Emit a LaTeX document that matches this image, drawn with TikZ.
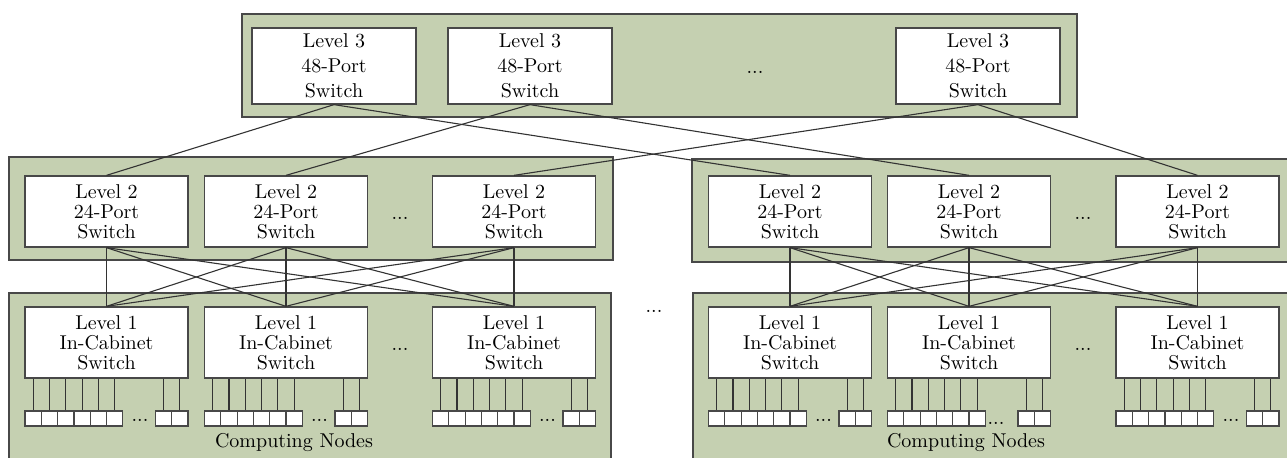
\documentclass[tikz,border=0pt]{standalone}
\usepackage{tikz}
\definecolor{panel}{RGB}{197,208,177}
\definecolor{edge}{RGB}{72,72,72}
\begin{document}
\begin{tikzpicture}[x=0.5pt,y=-0.5pt,
  panel/.style={fill=panel,draw=edge,line width=0.7pt},
  switchbox/.style={draw=edge,fill=white,line width=0.65pt,minimum width=81.5pt,
    minimum height=35.5pt,inner sep=0pt,align=center,font=\fontsize{10}{10}\selectfont},
  topbox/.style={switchbox,minimum width=82pt,minimum height=38pt,
    font=\fontsize{10}{12.5}\selectfont},
  nodebox/.style={draw=edge,fill=white,line width=0.6pt,minimum width=8.15pt,
    minimum height=7.5pt,inner sep=0pt},
  link/.style={draw=black!80,line width=0.55pt},
  gap/.style={inner sep=0pt,font=\fontsize{10}{12}\selectfont},
]
\clip (0,0) rectangle (1287,458);

% grouping panels
\path[panel] (242,14) rectangle (1077,117);
\path[panel] (9,157) rectangle (613,260);
\path[panel] (692,159) rectangle (1300,262);
\path[panel] (9,293) rectangle (611,470);
\path[panel] (693,293) rectangle (1300,470);

% level 3 switches
\node[topbox] (t1) at (334,66) {Level 3\\48-Port\\Switch};
\node[topbox] (t2) at (530,66) {Level 3\\48-Port\\Switch};
\node[topbox] (t3) at (978,66) {Level 3\\48-Port\\Switch};
\node[gap] (tdots) at (755,72) {...};

% level 2 and level 1 switches
\foreach \n/\x in {a1/106.5,a2/286,a3/514,b1/790,b2/969,b3/1197.5}{
  \node[switchbox] (m\n) at (\x,211.5) {Level 2\\24-Port\\Switch};
  \node[switchbox] (l\n) at (\x,342.5) {Level 1\\In-Cabinet\\Switch};
}
\node[gap] (mdotsA) at (400,218) {...};
\node[gap] (mdotsB) at (1083,218) {...};
\node[gap] (ldotsA) at (400,349) {...};
\node[gap] (ldotsB) at (1083,349) {...};
\node[gap] (cabdots) at (654,311) {...};

% computing nodes under each cabinet switch
\foreach \n/\x in {a1/106.5,a2/286,a3/514,b1/790,b2/969,b3/1197.5}{
  \foreach \k in {0,...,5}
    \node[nodebox] (c\n-\k) at ({\x-81.5+8.15+16.3*\k},418.5) {};
  \node[nodebox] (c\n-6) at ({\x+81.5-8.15-16.3},418.5) {};
  \node[nodebox] (c\n-7) at ({\x+81.5-8.15},418.5) {};
  \foreach \k in {0,...,7}
    \draw[link] (c\n-\k.north) -- (c\n-\k.north |- l\n.south);
}
\foreach \n/\x in {a1/106.5,a2/286,a3/514,b1/790,b3/1197.5}
  \node[gap] (d\n) at ({\x-81.5+115},420) {...};
\node[gap] (db2) at ({969-81.5+108.5},423.5) {...};

\node[font=\fontsize{10}{12}\selectfont] (cnA) at (294,443) {Computing Nodes};
\node[font=\fontsize{10}{12}\selectfont] (cnB) at (966,443) {Computing Nodes};

% uplinks from level 2 to level 3
\foreach \i in {1,2,3}{
  \draw[link] (t\i.south) -- (ma\i.north);
  \draw[link] (t\i.south) -- (mb\i.north);
}
% full mesh between level 2 and level 1 in each group
\foreach \s in {a,b}
  \foreach \i in {1,2,3}
    \foreach \j in {1,2,3}
      \draw[link] (m\s\i.south) -- (l\s\j.north);
\end{tikzpicture}
\end{document}
